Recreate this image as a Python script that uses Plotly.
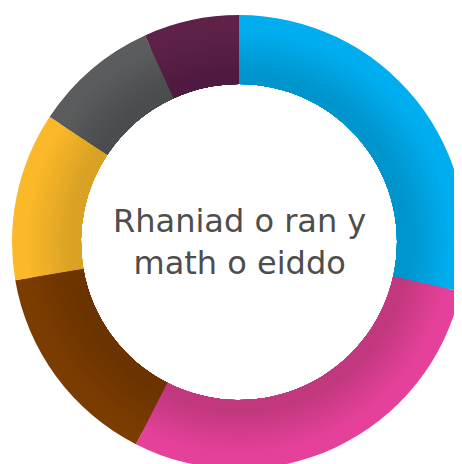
import plotly.graph_objects as go

categories = ["Glas", "Pinc", "Brown", "Melyn", "Llwyd", "Porffor"]
values = [28.5, 29.0, 14.8, 12.0, 8.9, 6.8]
bright_colors = ["#00AEEF", "#E5419A", "#7B3C00", "#FBB828", "#5B5C5E", "#5E2249"]
dark_colors = ["#0094CC", "#C2387E", "#6A3300", "#D9A224", "#4B4C4E", "#4F1A3F"]
center_text = "Rhaniad o ran y<br>math o eiddo"

W, H = 462, 464
CX, CY = 231, 230          # centre in figure px (y from bottom)
R_OUT, R_IN = 227, 158


def mix(c1, c2, t):
    a = [int(c1[i:i + 2], 16) for i in (1, 3, 5)]
    b = [int(c2[i:i + 2], 16) for i in (1, 3, 5)]
    return "#" + "".join(f"{round(x + (y - x) * t):02x}" for x, y in zip(a, b))


def ring(r_outer, cols, hover=True):
    return go.Pie(
        labels=categories,
        values=values,
        hole=R_IN / r_outer,
        sort=False,
        direction="clockwise",
        rotation=0,
        marker=dict(colors=cols, line=dict(width=0)),
        textinfo="none",
        hoverinfo="label+percent" if hover else "skip",
        showlegend=False,
        domain=dict(x=[(CX - r_outer) / W, (CX + r_outer) / W],
                    y=[(CY - r_outer) / H, (CY + r_outer) / H]),
    )


fig = go.Figure()
# outer bright ring, then progressively darker overlays toward the inner edge
fig.add_trace(ring(R_OUT, bright_colors))
r = 214
while r > 166:
    t = max(0.0, min(1.0, (r - 170) / 44.0))
    cols = [mix(d, b, t) for d, b in zip(dark_colors, bright_colors)]
    fig.add_trace(ring(r, cols, hover=False))
    r -= 3

fig.add_annotation(
    text=center_text, x=0.5, y=CY / H, xref="paper", yref="paper",
    showarrow=False, font=dict(family="DejaVu Sans", size=32, color="#4D4D4D"),
)
fig.update_layout(
    width=W, height=H,
    margin=dict(l=0, r=0, t=0, b=0),
    paper_bgcolor="white", plot_bgcolor="white",
)
fig.write_html("out.html")
